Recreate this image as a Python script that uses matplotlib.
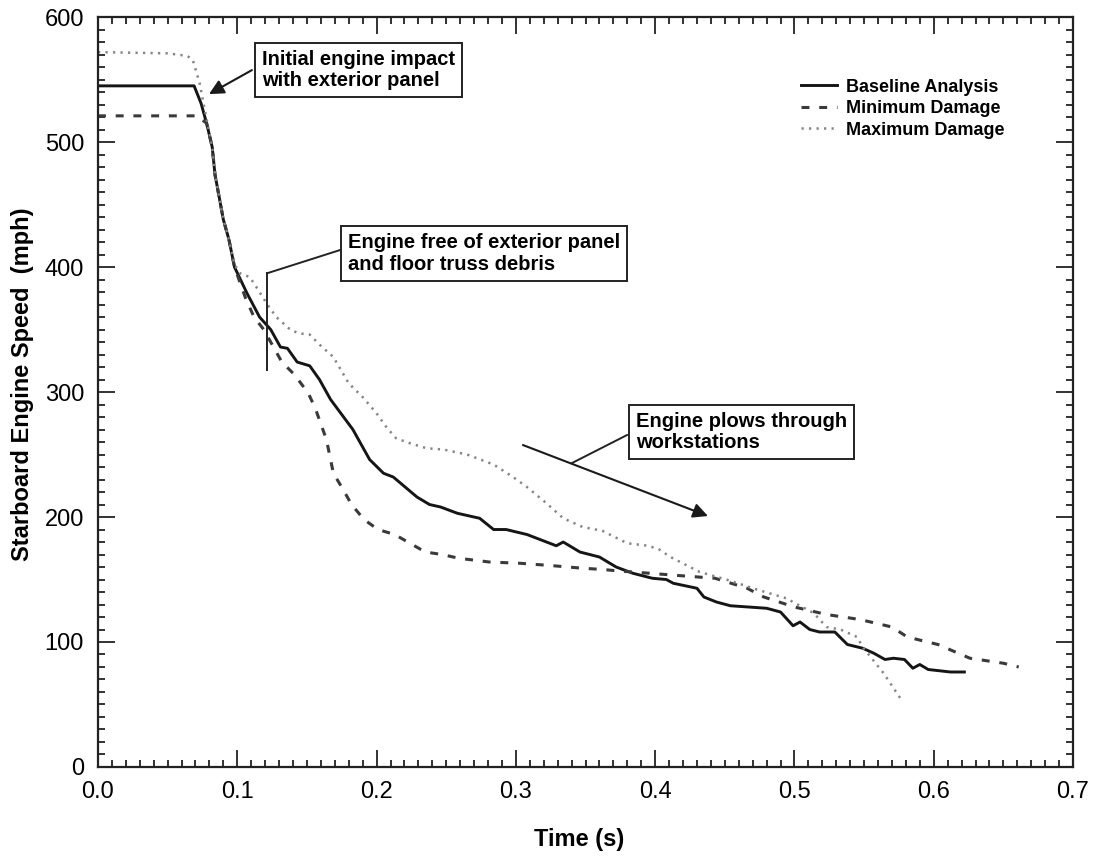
import matplotlib
matplotlib.use("Agg")
import matplotlib.pyplot as plt
from matplotlib.ticker import MultipleLocator

plt.rcParams["font.family"] = ["Liberation Sans", "DejaVu Sans"]

# Baseline analysis (time s, speed mph)
base_t = [0.000, 0.069, 0.074, 0.078, 0.082, 0.084, 0.090, 0.094, 0.098, 0.107,
          0.116, 0.124, 0.131, 0.136, 0.143, 0.152, 0.159, 0.167, 0.183, 0.195,
          0.205, 0.212, 0.229, 0.238, 0.246, 0.258, 0.274, 0.284, 0.293, 0.308,
          0.329, 0.334, 0.346, 0.360, 0.372, 0.384, 0.398, 0.408, 0.413, 0.430,
          0.435, 0.444, 0.454, 0.480, 0.490, 0.499, 0.504, 0.511, 0.518, 0.529,
          0.538, 0.549, 0.557, 0.565, 0.571, 0.579, 0.585, 0.590, 0.596, 0.612,
          0.622]
base_v = [545, 545, 531, 515, 496, 474, 438, 422, 400, 379,
          360, 350, 336, 335, 324, 321, 310, 294, 270, 246,
          235, 232, 216, 210, 208, 203, 199, 190, 190, 186,
          177, 180, 172, 168, 160, 155, 151, 150, 147, 143,
          136, 132, 129, 127, 124, 113, 116, 110, 108, 108,
          98, 95, 91, 86, 87, 86, 79, 82, 78, 76,
          76]

# Minimum damage
min_t = [0.000, 0.071, 0.078, 0.082, 0.084, 0.090, 0.094, 0.098, 0.106, 0.112,
         0.119, 0.125, 0.132, 0.141, 0.151, 0.156, 0.164, 0.169, 0.176, 0.182,
         0.191, 0.201, 0.213, 0.224, 0.235, 0.247, 0.259, 0.281, 0.303, 0.327,
         0.348, 0.363, 0.372, 0.396, 0.419, 0.443, 0.466, 0.478, 0.500, 0.523,
         0.547, 0.570, 0.581, 0.603, 0.626, 0.650, 0.661]
min_v = [521, 521, 515, 496, 474, 438, 422, 400, 375, 360,
         350, 338, 324, 314, 299, 287, 262, 235, 222, 210,
         198, 190, 186, 179, 172, 170, 167, 164, 163, 161,
         159, 158, 157, 155, 153, 151, 143, 136, 128, 122,
         118, 112, 104, 98, 87, 83, 80]

# Maximum damage
max_t = [0.000, 0.050, 0.064, 0.068, 0.073, 0.078, 0.082, 0.084, 0.090, 0.094,
         0.098, 0.102, 0.109, 0.116, 0.121, 0.128, 0.138, 0.144, 0.152, 0.159,
         0.169, 0.180, 0.190, 0.200, 0.207, 0.214, 0.224, 0.236, 0.248, 0.265,
         0.284, 0.298, 0.308, 0.322, 0.334, 0.348, 0.362, 0.380, 0.395, 0.403,
         0.411, 0.432, 0.451, 0.473, 0.494, 0.514, 0.523, 0.533, 0.545, 0.549,
         0.564, 0.576]
max_v = [572, 571, 569, 566, 547, 518, 496, 474, 438, 422,
         402, 395, 392, 380, 371, 360, 350, 347, 346, 338,
         328, 307, 296, 283, 272, 263, 259, 255, 254, 250,
         242, 232, 224, 211, 199, 192, 189, 179, 177, 174,
         168, 156, 150, 142, 135, 123, 112, 110, 104, 96,
         75, 55]

fig = plt.figure(figsize=(11.01, 8.56), dpi=100)
ax = fig.add_axes([0.089, 0.104, 0.8856, 0.876])

ax.plot(base_t, base_v, color="#151515", lw=2.1, label="Baseline Analysis")
ax.plot(min_t, min_v, color="#3a3a3a", lw=2.2, dashes=(2.6, 3.2),
        label="Minimum Damage")
ax.plot(max_t, max_v, color="#858585", lw=1.8, dashes=(0.9, 2.1),
        label="Maximum Damage")

ax.set_xlim(0, 0.7)
ax.set_ylim(0, 600)
ax.xaxis.set_major_locator(MultipleLocator(0.1))
ax.xaxis.set_minor_locator(MultipleLocator(0.01))
ax.yaxis.set_major_locator(MultipleLocator(100))
ax.yaxis.set_minor_locator(MultipleLocator(10))
ax.xaxis.set_major_formatter(plt.FuncFormatter(lambda v, p: f"{v:.1f}"))
ax.tick_params(which="both", direction="in", top=True, right=True,
               labelsize=17, pad=10, width=1.3, color="#222222")
ax.tick_params(which="major", length=12)
ax.tick_params(which="minor", length=5)
for s in ax.spines.values():
    s.set_linewidth(1.6)
    s.set_color("#222222")

ax.set_xlabel("Time (s)", fontsize=17, fontweight="bold")
ax.set_ylabel("Starboard Engine Speed  (mph)", fontsize=17, fontweight="bold")
ax.xaxis.set_label_coords(0.493, -0.081)
ax.yaxis.set_label_coords(-0.066, 0.51)

ax.legend(loc="upper left", bbox_to_anchor=(0.712, 0.93), frameon=False,
          prop={"size": 13, "weight": "bold"}, borderpad=0, handlelength=2.0,
          handletextpad=0.5, labelspacing=0.25)

# annotations
box = dict(boxstyle="square,pad=0.35", fc="white", ec="#222222", lw=1.4)
ax.text(0.1177, 557.6, "Initial engine impact\nwith exterior panel",
        fontsize=14.5, fontweight="bold", ha="left", va="center",
        linespacing=1.15, bbox=box)
ax.annotate("", xy=(0.0797, 538.4), xytext=(0.1105, 557.6),
            arrowprops=dict(arrowstyle="-|>", mutation_scale=22, lw=1.5,
                            color="#1a1a1a", shrinkA=0, shrinkB=0))

ax.text(0.1795, 410.8, "Engine free of exterior panel\nand floor truss debris",
        fontsize=14.5, fontweight="bold", ha="left", va="center",
        linespacing=1.15, bbox=box)
ax.plot([0.1213, 0.1213], [317.6, 395], color="#222222", lw=1.4)
ax.plot([0.1213, 0.1737], [395, 413.6], color="#222222", lw=1.4)

ax.text(0.3860, 268, "Engine plows through\nworkstations",
        fontsize=14.5, fontweight="bold", ha="left", va="center",
        linespacing=1.15, bbox=box)
ax.annotate("", xy=(0.4379, 200.8), xytext=(0.3051, 257.6),
            arrowprops=dict(arrowstyle="-|>", mutation_scale=22, lw=1.5,
                            color="#1a1a1a", shrinkA=0, shrinkB=0))
ax.plot([0.3403, 0.3798], [243.2, 265.6], color="#222222", lw=1.4)

fig.savefig("out.png", dpi=100)
